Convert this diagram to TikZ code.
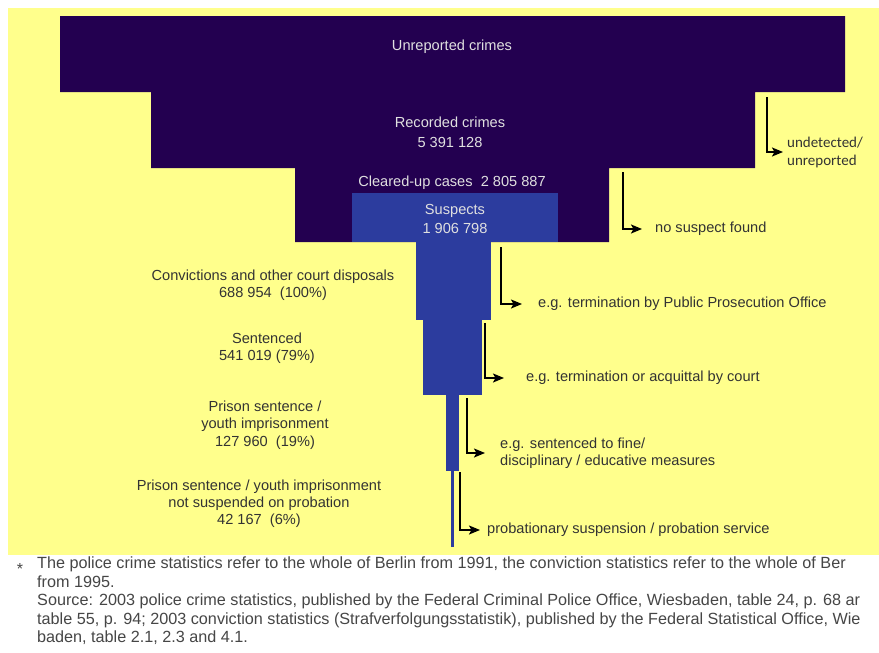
\documentclass[tikz,border=0pt]{standalone}
\usepackage{fontspec}
\setmainfont{Liberation Sans}
\newfontfamily\calib{Carlito}
\usetikzlibrary{arrows.meta}

\definecolor{funnelbg}{RGB}{255,255,140}
\definecolor{darkstep}{RGB}{35,0,80}
\definecolor{bluestep}{RGB}{44,60,158}
\definecolor{greytext}{RGB}{51,51,51}
\definecolor{notetext}{RGB}{70,70,70}

\begin{document}
\begin{tikzpicture}[
            x=1pt,y=-1pt,
            every node/.style={inner sep=0pt,align=center},
            intext/.style={text=white!88!black,font=\fontsize{14.6}{20}\selectfont},
            outtext/.style={text=greytext,font=\fontsize{14.6}{17.5}\selectfont},
            sidetext/.style={outtext,anchor=west,align=left},
            arr/.style={-{Stealth[length=11pt,width=9pt,inset=2.5pt]},line width=1.6pt,black}]

        \useasboundingbox (0,0) rectangle (879,653);
        \fill[white] (0,0) rectangle (879,653);
        \fill[funnelbg] (8,8) rectangle (879,555);

        % the funnel
        \fill[darkstep] (60,16) -- (845,16) -- (845,92) -- (755,92)
            -- (755,168) -- (609,168) -- (609,242) -- (295,242)
            -- (295,168) -- (151,168) -- (151,92) -- (60,92) -- cycle;
        \fill[bluestep] (352,193) rectangle (558,242);
        \fill[bluestep] (416,242) rectangle (491,320);
        \fill[bluestep] (423,320) rectangle (482,395);
        \fill[bluestep] (446,395) rectangle (459,471);
        \fill[bluestep] (451,471) rectangle (454,547);

        \node[intext] (unrep) at (452,47) {Unreported crimes};
        \node[intext] (recorded) at (450,132) {Recorded crimes\\5 391 128};
        \node[intext] (cleared) at (452,183) {Cleared-up cases\ \ 2 805 887};
        \node[intext,font=\fontsize{14.6}{19}\selectfont] (suspects) at (455,219) {Suspects\\1 906 798};

        \node[outtext,font=\fontsize{14.6}{16.5}\selectfont] (conv) at (273,285)
            {Convictions and other court disposals\\688 954\ \ (100\%)};
        \node[outtext] (sent) at (267,348) {Sentenced\\541 019 (79\%)};
        \node[outtext] (prison) at (265,425)
            {Prison sentence /\\youth imprisonment\\127 960\ \ (19\%)};
        \node[outtext,font=\fontsize{14.6}{17}\selectfont] (notsusp) at (259,504)
            {Prison sentence / youth imprisonment\\not suspended on probation\\42 167\ \ (6\%)};

        % the losses on the right
        \node[sidetext,font=\calib\fontsize{15}{18}\selectfont] (undet) at (787,152) {undetected/\\unreported};
        \node[sidetext] (nosus) at (655,229) {no suspect found};
        \node[sidetext] (pros) at (538,304) {e.g. termination by Public Prosecution Office};
        \node[sidetext] (court) at (526,378) {e.g. termination or acquittal by court};
        \node[sidetext] (fine) at (500,453) {e.g. sentenced to fine/\\disciplinary / educative measures};
        \node[sidetext] (probat) at (487,530) {probationary suspension / probation service};

        \coordinate (s1) at (767,97);
        \coordinate (s2) at (623,172);
        \coordinate (s3) at (501,247);
        \coordinate (s4) at (485,323);
        \coordinate (s5) at (467,398);
        \coordinate (s6) at (460,472);

        \draw[arr,shorten >=4pt] (s1) |- (undet.west);
        \draw[arr,shorten >=13pt] (s2) |- (nosus.west);
        \draw[arr,shorten >=16pt] (s3) |- (pros.west);
        \draw[arr,shorten >=22pt] (s4) |- (court.west);
        \draw[arr,shorten >=15pt] (s5) |- (fine.west);
        \draw[arr,shorten >=7pt] (s6) |- (probat.west);

        % footnote
        \node[text=notetext,font=\fontsize{16}{18}\selectfont] (star) at (20,569) {*};
        \node[anchor=north west,align=left,text=notetext,
              font=\fontsize{16.2}{18.5}\selectfont] (note) at (37,557)
            {The police crime statistics refer to the whole of Berlin from 1991, the conviction statistics refer to the whole of Ber\\
             from 1995.\\
             Source: 2003 police crime statistics, published by the Federal Criminal Police Office, Wiesbaden, table 24, p. 68 ar\\
             table 55, p. 94; 2003 conviction statistics (Strafverfolgungsstatistik), published by the Federal Statistical Office, Wie\\
             baden, table 2.1, 2.3 and 4.1.};
    \end{tikzpicture}
\end{document}
